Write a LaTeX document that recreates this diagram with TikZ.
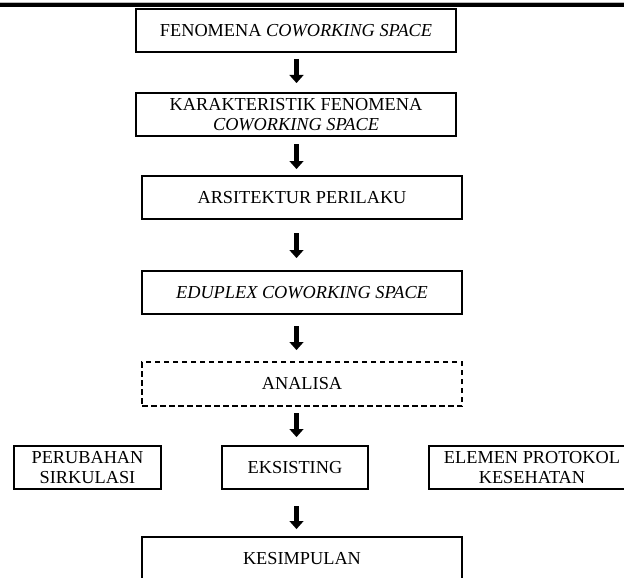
\documentclass[tikz,border=0pt]{standalone}
\usepackage{fontspec}
\setmainfont{Liberation Serif}
\usetikzlibrary{arrows.meta}
\tikzset{
  box/.style={draw, line width=1.6pt, rectangle, inner sep=0pt, outer sep=0pt,
    minimum height=43pt, align=center,
    font=\fontsize{18.3}{20.5}\selectfont},
  wide/.style={box, minimum width=320pt},
  dashbox/.style={wide, dash pattern=on 5.5pt off 3.5pt},
  blockarrow/.style={line width=5.5pt,
    -{Triangle[width=14pt,length=8pt,line width=0.1pt]}},
}
\begin{document}
\begin{tikzpicture}[x=1pt,y=-1pt]
\useasboundingbox (0,0) rectangle (624,578);
\clip (0,0) rectangle (624,578);
\draw[gray!55, line width=1pt] (0,2.2) -- (624,2.2);
\draw[line width=3.4pt] (0,5) -- (624,5);

\coordinate (ax) at (296.5,0);

\node[wide] (b1) at (296,30.5) {FENOMENA \textit{COWORKING SPACE}};
\node[wide] (b2) at (296,114.5) {KARAKTERISTIK FENOMENA\\\textit{COWORKING SPACE}};
\node[wide] (b3) at (302,197.5) {ARSITEKTUR PERILAKU};
\node[wide] (b4) at (302,292.5) {\textit{EDUPLEX COWORKING SPACE}};
\node[dashbox, minimum height=44pt] (b5) at (302,384) {ANALISA};
\node[box, minimum width=147pt] (r1) at (87.5,467.5) {PERUBAHAN\\SIRKULASI};
\node[box, minimum width=146pt] (r2) at (295,467.5) {EKSISTING};
\node[box, minimum width=206pt] (r3) at (532,467.5) {ELEMEN PROTOKOL\\KESEHATAN};
\node[wide, minimum height=44pt] (b6) at (302,559) {KESIMPULAN};

\draw[blockarrow, shorten <=7pt, shorten >=10pt] (b1.south -| ax) -- (b2.north -| ax);
\draw[blockarrow, shorten <=8pt, shorten >=7pt] (b2.south -| ax) -- (b3.north -| ax);
\draw[blockarrow, shorten <=14pt, shorten >=13pt] (b3.south -| ax) -- (b4.north -| ax);
\draw[blockarrow, shorten <=12pt, shorten >=12pt] (b4.south -| ax) -- (b5.north -| ax);
\draw[blockarrow, shorten <=7pt, shorten >=9pt] (b5.south -| ax) -- (r2.north -| ax);
\draw[blockarrow, shorten <=17pt, shorten >=8pt] (r2.south -| ax) -- (b6.north -| ax);
\end{tikzpicture}
\end{document}
